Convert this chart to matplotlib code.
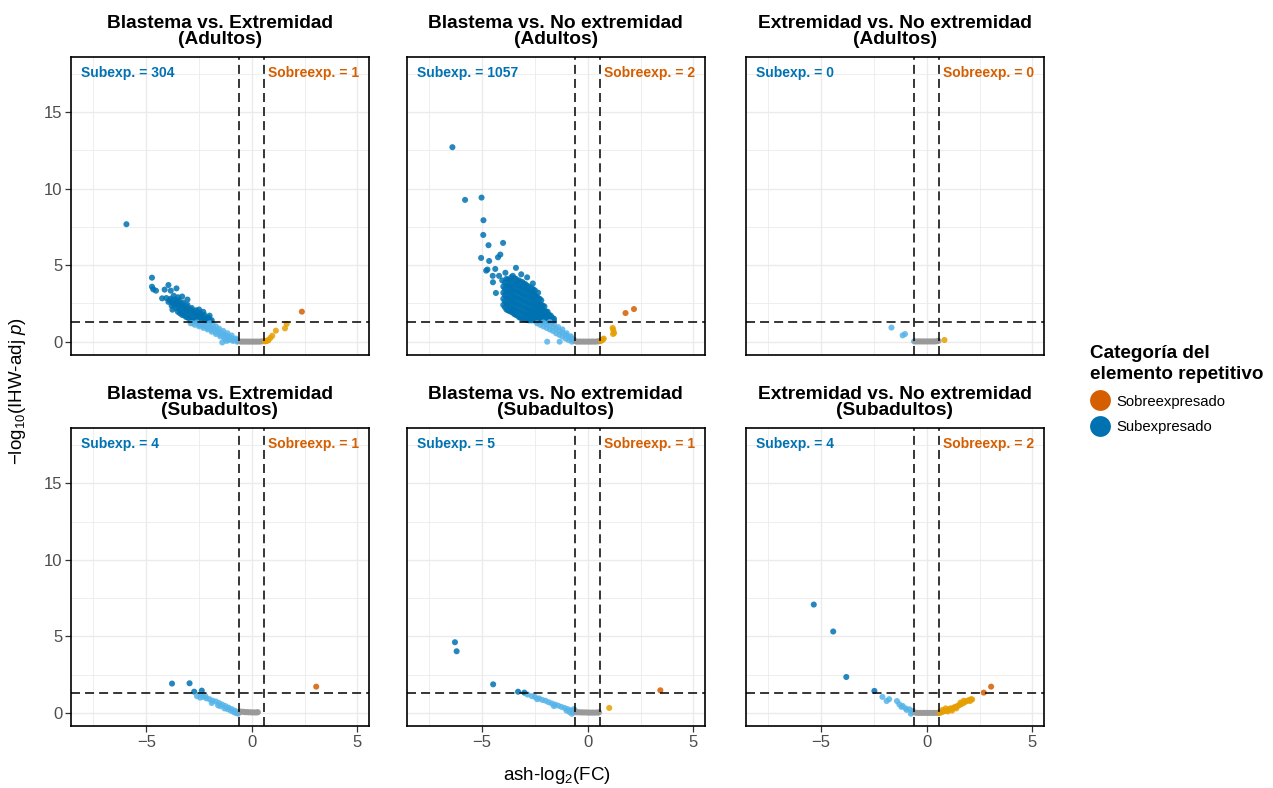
import matplotlib
matplotlib.use("Agg")
import matplotlib.pyplot as plt
from matplotlib.lines import Line2D
from matplotlib.ticker import MultipleLocator
import numpy as np

plt.rcParams["font.family"] = ["Liberation Sans", "DejaVu Sans"]
plt.rcParams["mathtext.fontset"] = "custom"
plt.rcParams["mathtext.rm"] = "Liberation Sans"
plt.rcParams["mathtext.it"] = "Liberation Sans:italic"

# ---------------------------------------------------------------- data
comparisons = ["Blastema vs. Extremidad", "Blastema vs. No extremidad",
               "Extremidad vs. No extremidad"]
age_groups = ["Adultos", "Subadultos"]
n_down = [[304, 1057, 0], [4, 5, 4]]
n_up = [[1, 2, 0], [1, 1, 2]]

# Blastema vs. Extremidad (Adultos)
be_ad_x = [-5.94, -4.73, -4.73, -4.67, -4.54, -3.95, -4.13, -3.84, -3.57, -4.25,
           -3.76, -3.30, -3.05, -2.50, -2.30, -2.00, -3.70, -3.50,
           -4.05, -3.85, -3.65, -3.45, -3.25, -3.05, -2.85, -2.65, -2.45, -2.25, -2.05,
           -3.95, -3.75, -3.55, -3.35, -3.15, -2.95, -2.75, -2.55, -2.35, -2.15, -1.95,
           -3.80, -3.60, -3.40, -3.20, -3.00, -2.80, -2.60, -2.40, -2.20,
           -3.50, -3.30, -3.10, -2.90, -2.70,
           -3.90, -3.70, -3.50, -3.30, -3.10, -2.90, -2.70, -2.50, -2.30, -2.10, -1.90,
           -3.70, -3.50, -3.30, -3.10, -2.90, -2.70, -2.50, -2.30, -2.10,
           -3.40, -3.20, -3.00, -2.80, -2.60,
           -2.90, -2.70, -2.50, -2.30, -2.10, -1.90, -1.70, -1.50, -1.30, -1.10, -0.90, -0.70,
           -2.60, -2.40, -2.20, -2.00, -1.80, -1.60, -1.40, -1.20, -1.00, -0.80, -0.65,
           -2.00, -1.85, -1.70, -1.55, -1.35, -1.15, -0.95, -0.75, -1.40, -1.20,
           -2.80, -2.50, -2.30, -2.10, -1.90, -1.70, -1.50, -1.30, -1.10, -0.90, -0.75,
           -0.55, -0.47, -0.39, -0.31, -0.23, -0.15, -0.07, 0.01, 0.09, 0.17, 0.25, 0.33, 0.41, 0.49,
           0.62, 0.66, 0.70, 0.75, 0.79, 0.88, 0.97, 1.14, 1.57, 1.65, 2.37]
be_ad_y = [7.67, 4.18, 3.59, 3.42, 3.33, 3.70, 3.40, 3.33, 3.48, 2.83,
           2.09, 2.95, 2.75, 2.10, 1.95, 1.70, 3.00, 2.90,
           2.85, 2.80, 2.75, 2.70, 2.55, 2.40, 2.20, 2.05, 1.90, 1.75, 1.55,
           2.60, 2.55, 2.45, 2.30, 2.15, 2.00, 1.85, 1.70, 1.60, 1.45, 1.35,
           2.35, 2.20, 2.05, 1.90, 1.75, 1.60, 1.50, 1.40, 1.33,
           1.95, 1.75, 1.60, 1.45, 1.35,
           2.70, 2.65, 2.60, 2.45, 2.30, 2.10, 1.95, 1.80, 1.65, 1.50, 1.40,
           2.45, 2.30, 2.15, 2.00, 1.85, 1.70, 1.58, 1.48, 1.38,
           1.85, 1.70, 1.55, 1.42, 1.36,
           1.20, 1.10, 1.00, 0.90, 0.80, 0.65, 0.50, 0.35, 0.20, 0.10, 0.05, 0.00,
           1.25, 1.15, 1.05, 0.95, 0.85, 0.70, 0.55, 0.40, 0.25, 0.12, 0.05,
           1.20, 1.10, 1.00, 0.85, 0.70, 0.55, 0.40, 0.20, -0.05, 0.05,
           1.20, 1.10, 1.02, 0.90, 0.78, 0.62, 0.48, 0.32, 0.20, 0.15, 0.10,
           0.01, 0.00, 0.01, 0.00, 0.01, 0.00, 0.01, 0.00, 0.01, 0.00, 0.01, 0.00, 0.01, 0.02,
           0.02, 0.04, 0.05, 0.08, 0.10, 0.25, 0.39, 0.72, 0.87, 1.16, 1.96]

# Blastema vs. No extremidad (Adultos)
bn_ad_x = [-6.41, -5.81, -5.03, -4.94, -4.95, -4.70, -4.01, -5.05, -4.67, -4.25, -4.14,
           -4.81, -4.75, -4.38, -3.40, -2.87, -4.49, -4.35, -3.75, -3.59,
           -4.20, -3.90, -4.05, -4.50, -3.15, -2.60,
           -4.00, -4.00, -4.00, -4.00,
           -3.85, -3.85, -3.85, -3.85, -3.85, -3.85,
           -3.70, -3.70, -3.70, -3.70, -3.70, -3.70,
           -3.55, -3.55, -3.55, -3.55, -3.55, -3.55, -3.55,
           -3.40, -3.40, -3.40, -3.40, -3.40, -3.40, -3.40,
           -3.25, -3.25, -3.25, -3.25, -3.25, -3.25, -3.25,
           -3.10, -3.10, -3.10, -3.10, -3.10, -3.10, -3.10,
           -2.95, -2.95, -2.95, -2.95, -2.95, -2.95, -2.95,
           -2.80, -2.80, -2.80, -2.80, -2.80, -2.80, -2.80,
           -2.65, -2.65, -2.65, -2.65, -2.65, -2.65, -2.65,
           -2.50, -2.50, -2.50, -2.50, -2.50, -2.50, -2.50,
           -2.35, -2.35, -2.35, -2.35, -2.35, -2.35, -2.35,
           -2.20, -2.20, -2.20, -2.20, -2.20, -2.20,
           -2.05, -2.05, -2.05, -2.05, -2.05,
           -1.90, -1.90, -1.90, -1.90,
           -1.75, -1.75, -1.75,
           -1.60, -1.60,
           -3.925, -3.925, -3.925, -3.925, -3.925,
           -3.775, -3.775, -3.775, -3.775, -3.775, -3.775,
           -3.625, -3.625, -3.625, -3.625, -3.625, -3.625, -3.625,
           -3.475, -3.475, -3.475, -3.475, -3.475, -3.475, -3.475,
           -3.325, -3.325, -3.325, -3.325, -3.325, -3.325, -3.325,
           -3.175, -3.175, -3.175, -3.175, -3.175, -3.175, -3.175,
           -3.025, -3.025, -3.025, -3.025, -3.025, -3.025, -3.025,
           -2.875, -2.875, -2.875, -2.875, -2.875, -2.875, -2.875,
           -2.725, -2.725, -2.725, -2.725, -2.725, -2.725,
           -2.575, -2.575, -2.575, -2.575, -2.575, -2.575, -2.575,
           -2.425, -2.425, -2.425, -2.425, -2.425, -2.425,
           -2.275, -2.275, -2.275, -2.275, -2.275, -2.275,
           -2.125, -2.125, -2.125, -2.125, -2.125,
           -1.975, -1.975, -1.975, -1.975,
           -1.825, -1.825, -1.825,
           -1.675, -1.675,
           -2.40, -2.25, -2.10, -1.95, -1.80, -1.65, -1.50, -1.35, -1.20, -1.05, -0.90, -0.75, -0.62,
           -2.10, -1.95, -1.80, -1.65, -1.50, -1.35, -1.20, -1.05, -0.90, -0.75, -0.65,
           -1.80, -1.60, -1.40, -1.20, -1.00, -0.80, -1.92, -1.33,
           -0.55, -0.47, -0.39, -0.31, -0.23, -0.15, -0.07, 0.01, 0.09, 0.17, 0.25, 0.33, 0.41, 0.49, 0.56,
           0.62, 0.68, 0.72, 0.76, 1.18, 1.20, 1.21, 1.25, 1.79, 2.19]
bn_ad_y = [12.70, 9.26, 9.41, 7.93, 6.97, 6.30, 6.45, 5.47, 5.27, 5.51, 5.69,
           4.64, 4.71, 4.75, 4.82, 4.20, 3.88, 3.18, 2.09, 2.07,
           4.30, 4.50, 4.00, 4.30, 4.40, 3.80,
           2.40, 2.80, 3.20, 3.60,
           2.10, 2.50, 2.90, 3.30, 3.70, 4.10,
           2.00, 2.40, 2.80, 3.20, 3.60, 4.00,
           1.90, 2.20, 2.60, 3.00, 3.40, 3.80, 4.30,
           1.75, 2.10, 2.50, 2.90, 3.30, 3.70, 4.10,
           1.60, 2.00, 2.40, 2.80, 3.20, 3.60, 4.00,
           1.50, 1.90, 2.30, 2.70, 3.10, 3.50, 3.90,
           1.45, 1.80, 2.20, 2.60, 3.00, 3.40, 3.75,
           1.40, 1.75, 2.10, 2.50, 2.90, 3.30, 3.60,
           1.40, 1.70, 2.00, 2.40, 2.80, 3.20, 3.50,
           1.40, 1.65, 1.95, 2.30, 2.70, 3.00, 3.35,
           1.35, 1.60, 1.90, 2.20, 2.50, 2.85, 3.20,
           1.35, 1.55, 1.80, 2.10, 2.40, 2.70,
           1.35, 1.50, 1.75, 2.00, 2.30,
           1.35, 1.50, 1.70, 1.95,
           1.35, 1.50, 1.70,
           1.35, 1.50,
           2.25, 2.65, 3.05, 3.45, 3.85,
           2.05, 2.45, 2.85, 3.25, 3.65, 4.05,
           1.95, 2.30, 2.70, 3.10, 3.50, 3.90, 4.20,
           1.80, 2.15, 2.55, 2.95, 3.35, 3.75, 4.15,
           1.70, 2.05, 2.45, 2.85, 3.25, 3.65, 3.95,
           1.55, 1.95, 2.35, 2.75, 3.15, 3.55, 3.85,
           1.50, 1.85, 2.25, 2.65, 3.05, 3.45, 3.80,
           1.42, 1.80, 2.15, 2.55, 2.95, 3.35, 3.65,
           1.40, 1.72, 2.05, 2.45, 2.85, 3.20,
           1.40, 1.68, 2.00, 2.35, 2.75, 3.10, 3.40,
           1.38, 1.62, 1.92, 2.25, 2.60, 2.95,
           1.35, 1.58, 1.85, 2.15, 2.45, 2.80,
           1.35, 1.52, 1.78, 2.05, 2.35,
           1.35, 1.50, 1.72, 1.98,
           1.35, 1.50, 1.75,
           1.35, 1.55,
           1.20, 1.10, 1.00, 0.90, 0.80, 0.70, 0.55, 0.45, 0.35, 0.20, 0.10, 0.00, 0.05,
           1.25, 1.15, 1.05, 0.95, 0.85, 0.70, 0.60, 0.45, 0.30, 0.20, 0.10,
           1.28, 1.15, 0.95, 0.80, 0.55, 0.35, 0.00, 0.00,
           0.01, 0.00, 0.01, 0.00, 0.01, 0.00, 0.01, 0.00, 0.01, 0.00, 0.01, 0.00, 0.01, 0.02, 0.03,
           0.05, 0.10, 0.15, 0.20, 0.90, 0.50, 0.76, 0.57, 1.87, 2.13]

# Extremidad vs. No extremidad (Adultos)
en_ad_x = [-1.67, -1.14, -1.03, -0.60,
           -0.55, -0.47, -0.39, -0.31, -0.23, -0.15, -0.07, 0.01, 0.09, 0.17, 0.25, 0.33, 0.41, 0.49, 0.56,
           0.84]
en_ad_y = [0.92, 0.41, 0.50, 0.02,
           0.02, 0.01, 0.02, 0.01, 0.02, 0.01, 0.02, 0.01, 0.02, 0.01, 0.02, 0.01, 0.02, 0.03, 0.05,
           0.11]

# Blastema vs. Extremidad (Subadultos)
be_sub_x = [-3.78, -2.95, -2.73, -2.37,
            -2.60, -2.45, -2.30, -2.15, -2.00, -1.85, -1.70, -1.55, -1.40, -1.25, -1.10, -0.95, -0.80, -0.65,
            -2.40, -2.20, -1.90, -1.60, -1.30, -1.00, -0.75, -0.65, -1.50, -1.15, -0.85,
            -0.55, -0.47, -0.39, -0.31, -0.23, -0.15, -0.07, 0.01, 0.09, 0.17, 0.25, 0.29,
            3.05]
be_sub_y = [1.92, 1.94, 1.39, 1.46,
            1.10, 1.00, 1.05, 0.95, 0.90, 0.80, 0.75, 0.65, 0.55, 0.45, 0.35, 0.25, 0.15, 0.05,
            1.20, 1.10, 0.65, 0.50, 0.30, 0.15, 0.00, -0.05, 0.45, 0.25, 0.05,
            0.10, 0.07, 0.08, 0.05, 0.06, 0.04, 0.05, 0.03, 0.04, 0.03, 0.04, 0.05,
            1.72]

# Blastema vs. No extremidad (Subadultos)
bn_sub_x = [-6.29, -6.21, -4.48, -3.30, -3.00,
            -2.85, -2.65, -2.50, -2.30, -2.15, -2.00, -1.85, -1.70, -1.55, -1.40, -1.25, -1.10,
            -0.95, -0.80, -0.70, -0.62, -0.65, -0.60, -0.75, -2.40, -1.60, -1.00, -0.85,
            -0.55, -0.47, -0.39, -0.31, -0.23, -0.15, -0.07, 0.01, 0.09, 0.17, 0.25, 0.33, 0.41, 0.49, 0.54,
            1.02, 3.44]
bn_sub_y = [4.62, 4.03, 1.87, 1.39, 1.33,
            1.20, 1.10, 1.05, 0.95, 0.85, 0.80, 0.70, 0.62, 0.55, 0.48, 0.40, 0.33,
            0.25, 0.18, 0.10, 0.05, 0.25, 0.15, -0.05, 0.90, 0.45, 0.15, 0.05,
            0.05, 0.04, 0.05, 0.03, 0.04, 0.03, 0.04, 0.02, 0.03, 0.02, 0.03, 0.02, 0.03, 0.03, 0.04,
            0.33, 1.48]

# Extremidad vs. No extremidad (Subadultos)
en_sub_x = [-5.35, -4.43, -3.81, -2.48,
            -2.10, -1.90, -1.78, -1.41, -1.30, -1.14, -1.00, -0.82, -0.67, -0.75, -0.95, -1.20, -0.70,
            -0.55, -0.47, -0.39, -0.31, -0.23, -0.15, -0.07, 0.01, 0.09, 0.17, 0.25, 0.33, 0.41, 0.49, 0.56,
            0.62, 0.70, 0.78, 0.86, 0.95, 1.05, 1.12, 1.20, 1.28, 1.35, 1.45, 1.52, 1.60, 1.70,
            1.80, 1.90, 2.00, 2.10, 2.15, 1.00, 1.20, 1.40, 0.90, 0.75, 1.60, 1.75, 2.05,
            2.70, 3.05]
en_sub_y = [7.08, 5.32, 2.35, 1.44,
            1.05, 0.78, 0.90, 0.78, 0.57, 0.46, 0.30, 0.24, 0.13, -0.05, 0.20, 0.40, 0.05,
            0.02, 0.01, 0.00, 0.01, 0.00, 0.01, 0.00, 0.01, 0.00, 0.01, 0.00, 0.01, 0.00, 0.01, 0.02,
            0.00, 0.05, 0.10, 0.12, 0.18, 0.22, 0.30, 0.28, 0.35, 0.40, 0.45, 0.50, 0.55, 0.62,
            0.70, 0.78, 0.85, 0.90, 0.88, 0.10, 0.15, 0.30, 0.30, 0.20, 0.68, 0.80, 0.78,
            1.33, 1.72]

panel_x = [[be_ad_x, bn_ad_x, en_ad_x], [be_sub_x, bn_sub_x, en_sub_x]]
panel_y = [[be_ad_y, bn_ad_y, en_ad_y], [be_sub_y, bn_sub_y, en_sub_y]]

lfc_cut = 0.585          # log2(1.5)
p_cut = -np.log10(0.05)

col_down_sig = "#0072B2"
col_down = "#56B4E9"
col_flat = "#999999"
col_up = "#E69F00"
col_up_sig = "#D55E00"


def point_colours(x, y):
    x = np.asarray(x)
    y = np.asarray(y)
    cols = np.full(x.shape, col_flat, dtype=object)
    cols[x <= -lfc_cut] = col_down
    cols[x >= lfc_cut] = col_up
    cols[(x <= -lfc_cut) & (y > p_cut)] = col_down_sig
    cols[(x >= lfc_cut) & (y > p_cut)] = col_up_sig
    return list(cols)


# ---------------------------------------------------------------- figure
W, H = 1273, 788
fig = plt.figure(figsize=(W / 100, H / 100), dpi=100)

col_left = [70.7, 406.6, 745.6]
row_top = [56.7, 428.0]
pw, ph = 298.5, 298.3

for r in range(2):
    for c in range(3):
        ax = fig.add_axes([col_left[c] / W, 1 - (row_top[r] + ph) / H, pw / W, ph / H])
        x = panel_x[r][c]
        y = panel_y[r][c]
        ax.scatter(x, y, s=19, c=point_colours(x, y), alpha=0.85,
                   linewidths=0, zorder=3)
        ax.set_xlim(-8.58, 5.56)
        ax.set_ylim(-0.87, 18.61)
        ax.xaxis.set_major_locator(MultipleLocator(5))
        ax.xaxis.set_minor_locator(MultipleLocator(2.5))
        ax.yaxis.set_major_locator(MultipleLocator(5))
        ax.yaxis.set_minor_locator(MultipleLocator(2.5))
        ax.grid(which="major", color="#EBEBEB", linewidth=1.0, zorder=0)
        ax.grid(which="minor", color="#EBEBEB", linewidth=0.6, zorder=0)
        ax.set_axisbelow(True)
        for v in (-lfc_cut, lfc_cut):
            ax.axvline(v, color="black", linewidth=1.1, dashes=(5.9, 3.3), zorder=4)
        ax.axhline(p_cut, color="black", linewidth=1.1, dashes=(5.9, 3.3), zorder=4)
        for s in ax.spines.values():
            s.set_linewidth(1.2)
            s.set_color("black")
            s.set_zorder(5)
        ax.tick_params(which="minor", length=0)
        ax.tick_params(which="major", length=4, width=0.9, color="#333333",
                       labelsize=12, labelcolor="#4D4D4D", pad=2)
        if r == 0:
            ax.tick_params(axis="x", labelbottom=False, length=0)
        if c > 0:
            ax.tick_params(axis="y", labelleft=False, length=0)
        ax.set_title(f"{comparisons[c]}\n({age_groups[r]})", fontsize=13.8,
                     fontweight="bold", linespacing=0.95, pad=9)
        ax.text(0.034, 0.946, f"Subexp. = {n_down[r][c]}", transform=ax.transAxes,
                ha="left", va="center", color=col_down_sig, fontsize=10,
                fontweight="bold", zorder=6)
        ax.text(0.967, 0.946, f"Sobreexp. = {n_up[r][c]}", transform=ax.transAxes,
                ha="right", va="center", color=col_up_sig, fontsize=10,
                fontweight="bold", zorder=6)

fig.text(557 / W, 1 - 776 / H, "ash-log$_2$(FC)", ha="center", va="center",
         fontsize=13.5)
fig.text(18 / W, 1 - 391 / H, "\u2212log$_{10}$(IHW-adj $p$)", ha="center",
         va="center", rotation=90, fontsize=13.5)

handles = [Line2D([], [], marker="o", linestyle="", markersize=15,
                  markerfacecolor=col_up_sig, markeredgewidth=0),
           Line2D([], [], marker="o", linestyle="", markersize=15,
                  markerfacecolor=col_down_sig, markeredgewidth=0)]
leg = fig.legend(handles, ["Sobreexpresado", "Subexpresado"],
                 title="Categoría del\nelemento repetitivo",
                 loc="upper left", bbox_to_anchor=(1084 / W, 1 - 339 / H),
                 frameon=False, fontsize=10.7, handletextpad=0.45,
                 labelspacing=0.75, borderaxespad=0, handlelength=1.3,
                 title_fontproperties={"weight": "bold", "size": 13.6},
                 alignment="left")
leg.get_title().set_linespacing(1.35)

fig.savefig("out.png", dpi=100)
